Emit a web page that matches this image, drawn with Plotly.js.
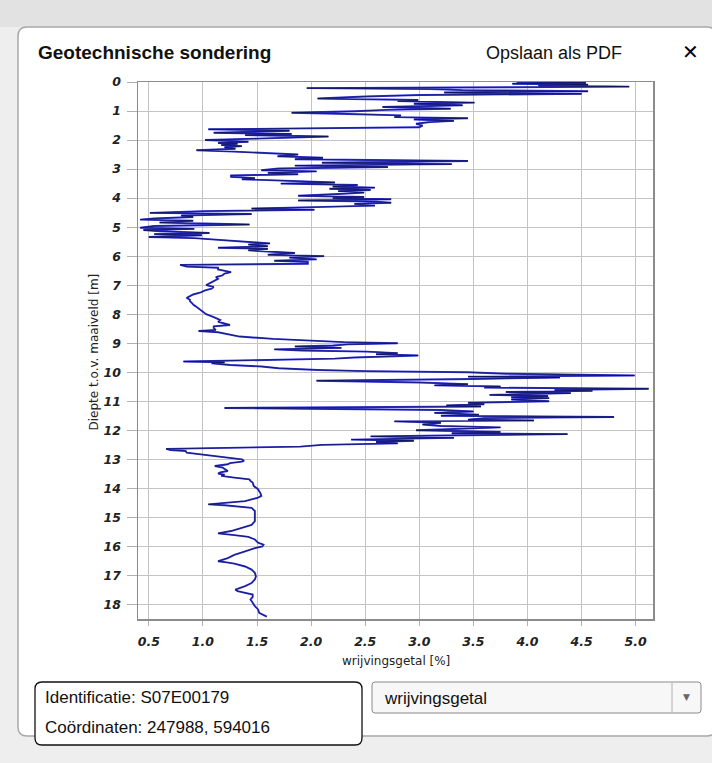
<!DOCTYPE html>
<html>
<head>
<meta charset="utf-8">
<script src="https://cdn.plot.ly/plotly-3.0.1.min.js"></script>
<style>html,body{margin:0;padding:0;background:#ececec;}#chart{width:712px;height:763px;}</style>
</head>
<body>
<div id="chart"></div>
<script>
// Depth below ground level [m]
const depth = [
0.00,0.03,0.06,0.09,0.12,0.16,0.19,0.21,0.24,0.28,0.32,0.36,0.41,0.45,0.50,0.57,0.62,0.66,0.71,0.75,
0.80,0.86,0.92,0.96,1.01,1.06,1.10,1.15,1.21,1.25,1.29,1.34,1.38,1.44,1.50,1.56,1.63,1.68,1.75,1.79,
1.83,1.88,1.95,2.00,2.06,2.10,2.13,2.17,2.21,2.25,2.30,2.35,2.40,2.45,2.50,2.56,2.61,2.66,2.72,2.78,
2.83,2.88,2.93,2.98,3.04,3.08,3.13,3.18,3.22,3.27,3.31,3.35,3.40,3.46,3.50,3.55,3.60,3.64,3.68,3.72,
3.76,3.81,3.86,3.92,3.96,4.00,4.04,4.08,4.12,4.16,4.20,4.26,4.31,4.36,4.40,4.45,4.51,4.55,4.60,4.65,
4.70,4.74,4.78,4.84,4.91,4.96,5.02,5.06,5.10,5.14,5.20,5.24,5.28,5.34,5.38,5.43,5.48,5.52,5.56,5.60,
5.66,5.71,5.75,5.80,5.85,5.89,5.95,6.00,6.05,6.11,6.16,6.20,6.26,6.30,6.36,6.40,6.46,6.50,6.55,6.60,
6.66,6.72,6.78,6.86,6.94,7.00,7.06,7.12,7.18,7.25,7.32,7.40,7.44,7.50,7.55,7.62,7.67,7.72,7.78,7.84,
7.90,8.00,8.10,8.20,8.26,8.32,8.37,8.42,8.48,8.54,8.58,8.62,8.66,8.72,8.77,8.85,8.92,8.96,9.00,9.04,
9.08,9.11,9.16,9.21,9.25,9.29,9.34,9.38,9.42,9.46,9.49,9.53,9.57,9.63,9.66,9.69,9.75,9.80,9.86,9.92,
9.96,10.00,10.05,10.11,10.15,10.18,10.23,10.29,10.35,10.41,10.45,10.49,10.53,10.57,10.61,10.64,10.68,10.72,10.78,10.82,
10.86,10.89,10.94,11.00,11.05,11.10,11.14,11.18,11.23,11.30,11.35,11.40,11.46,11.50,11.54,11.58,11.63,11.66,11.69,11.74,
11.80,11.85,11.90,11.95,12.00,12.03,12.06,12.10,12.13,12.17,12.21,12.26,12.32,12.36,12.40,12.45,12.50,12.56,12.60,12.64,
12.68,12.71,12.77,12.83,12.89,12.94,13.00,13.05,13.08,13.13,13.17,13.23,13.28,13.33,13.40,13.45,13.49,13.53,13.57,13.63,
13.69,13.75,13.80,13.92,14.03,14.10,14.15,14.26,14.32,14.38,14.44,14.49,14.55,14.58,14.61,14.67,14.78,14.90,15.01,15.13,
15.26,15.36,15.47,15.55,15.58,15.61,15.67,15.76,15.87,15.94,16.00,16.06,16.17,16.29,16.40,16.48,16.51,16.55,16.59,16.69,
16.80,16.91,17.03,17.14,17.26,17.37,17.46,17.49,17.54,17.60,17.66,17.74,17.83,17.94,18.06,18.17,18.29,18.42
];
// Friction ratio [%]
const wrijvingsgetal = [
3.90,4.54,3.86,4.56,4.10,4.94,3.30,1.96,3.10,3.40,4.56,3.23,4.50,3.00,2.50,2.06,2.99,2.80,3.51,2.95,
3.40,2.66,3.29,2.70,2.40,1.82,2.34,2.83,2.77,3.45,2.95,3.32,3.10,2.97,3.03,3.00,1.05,1.80,1.10,1.82,
1.39,2.16,1.50,1.02,1.42,1.14,1.32,1.17,1.36,1.20,1.30,0.94,1.29,1.63,1.88,1.69,2.11,1.85,3.45,2.10,
3.30,1.85,2.71,1.70,1.54,2.05,1.60,1.88,1.26,1.26,1.48,1.36,1.72,2.22,1.72,2.43,2.20,2.59,2.17,2.55,
2.25,2.49,2.25,1.88,2.49,2.20,2.74,1.88,2.60,2.74,2.40,2.59,2.03,1.45,2.03,1.00,0.51,1.45,0.80,0.91,
0.55,0.42,0.91,0.60,1.43,0.55,0.42,0.92,0.45,0.60,1.06,0.55,0.99,0.50,0.92,1.14,1.35,1.45,1.62,1.42,
1.60,1.14,1.60,1.42,1.66,1.85,1.60,2.12,1.80,2.05,1.66,1.97,1.97,0.79,0.85,1.14,1.14,1.20,1.26,1.20,
1.18,1.12,1.14,1.10,1.06,1.03,1.10,1.08,1.02,0.98,0.91,0.86,0.85,0.88,0.88,0.90,0.91,0.93,0.95,0.97,
0.99,1.03,1.10,1.16,1.14,1.20,1.25,1.10,1.10,1.12,0.96,1.14,1.20,1.26,1.34,1.65,2.05,2.30,2.80,2.34,
2.20,1.85,2.28,1.66,1.91,2.52,2.80,2.60,2.99,2.60,2.40,2.22,1.70,0.82,1.20,1.08,1.25,1.54,1.70,2.06,
2.50,3.45,3.80,4.99,3.45,4.30,3.50,2.05,3.00,3.45,3.14,3.75,3.60,5.12,4.25,4.60,3.80,4.40,3.65,4.19,
3.85,4.20,3.85,4.20,3.45,3.60,3.25,3.57,1.20,3.20,3.50,3.14,3.55,3.20,4.80,3.60,3.45,4.06,2.77,3.20,
3.03,3.20,3.75,3.30,2.97,3.45,3.75,3.30,4.37,3.40,2.55,3.32,2.37,2.95,2.60,2.80,2.10,1.90,1.30,0.66,
0.70,0.84,0.85,0.99,1.11,1.26,1.36,1.38,1.36,1.25,1.23,1.11,1.18,1.20,1.23,1.16,1.14,1.20,1.17,1.29,
1.43,1.44,1.46,1.47,1.51,1.52,1.53,1.54,1.51,1.45,1.39,1.23,1.05,1.20,1.29,1.45,1.48,1.48,1.48,1.48,
1.45,1.36,1.26,1.14,1.25,1.29,1.42,1.48,1.51,1.56,1.55,1.48,1.39,1.29,1.23,1.16,1.14,1.22,1.29,1.39,
1.45,1.48,1.49,1.48,1.45,1.39,1.32,1.30,1.32,1.39,1.46,1.46,1.44,1.46,1.48,1.51,1.52,1.59
];
const xTickVals = [0.5,1.0,1.5,2.0,2.5,3.0,3.5,4.0,4.5,5.0];
const yTickVals = [0,1,2,3,4,5,6,7,8,9,10,11,12,13,14,15,16,17,18];
const titleText = "Geotechnische sondering";
const pdfText = "Opslaan als PDF";
const xTitle = "wrijvingsgetal [%]";
const yTitle = "Diepte t.o.v. maaiveld [m]";
const idText = "Identificatie: S07E00179";
const coordText = "Coördinaten: 247988, 594016";
const selectText = "wrijvingsgetal";

// plot area in pixels
const L = 138, R = 653, T = 82, B = 619;
const px = p => (p - L) / (R - L);
const py = p => (B - p) / (B - T);
function rrect(x0, y0, x1, y1, r) {
  const X0 = px(x0), X1 = px(x1), Y0 = py(y0), Y1 = py(y1);
  const rx = r / (R - L), ry = r / (B - T);
  return `M${X0 + rx},${Y0} L${X1 - rx},${Y0} Q${X1},${Y0} ${X1},${Y0 - ry} L${X1},${Y1 + ry} Q${X1},${Y1} ${X1 - rx},${Y1} L${X0 + rx},${Y1} Q${X0},${Y1} ${X0},${Y1 + ry} L${X0},${Y0 - ry} Q${X0},${Y0} ${X0 + rx},${Y0} Z`;
}

const traces = [
  {x: wrijvingsgetal, y: depth, mode: 'lines', type: 'scatter',
   line: {color: '#2f35e0', width: 1.9}, hoverinfo: 'skip'},
  {x: wrijvingsgetal, y: depth, mode: 'lines', type: 'scatter',
   line: {color: '#0a0a30', width: 0.6}, hoverinfo: 'skip'}
];

const tickFont = {family: 'DejaVu Sans', size: 12.5, color: '#222', weight: 'bold', style: 'italic'};

const shapes = [
  {type: 'rect', xref: 'paper', yref: 'paper', x0: px(0), x1: px(712), y0: py(0), y1: py(27), fillcolor: '#e2e2e2', line: {width: 0}, layer: 'below'},
  {type: 'path', xref: 'paper', yref: 'paper', path: rrect(18, 27, 716, 736, 9), fillcolor: '#ffffff', line: {color: '#a8a8a8', width: 1.5}, layer: 'below'},
  {type: 'path', xref: 'paper', yref: 'paper', path: rrect(35, 682, 362, 745, 7), fillcolor: '#ffffff', line: {color: '#111', width: 1.3}},
  {type: 'path', xref: 'paper', yref: 'paper', path: rrect(372, 682, 701, 713, 3), fillcolor: '#f7f7f7', line: {color: '#8a8a8a', width: 1}},
  {type: 'line', xref: 'paper', yref: 'paper', x0: px(672), x1: px(672), y0: py(683), y1: py(712), line: {color: '#b0b0b0', width: 1}}
];

const ann = (text, x, y, size, opts) => Object.assign({
  text: text, xref: 'paper', yref: 'paper', x: px(x), y: py(y), showarrow: false,
  xanchor: 'left', yanchor: 'middle', font: {family: 'Liberation Sans', size: size, color: '#111'}
}, opts || {});

const annotations = [
  ann(titleText, 36, 53, 19, {font: {family: 'Liberation Sans', size: 19, color: '#111', weight: 'bold'}}),
  ann(pdfText, 484, 53, 18),
  ann('✕', 690, 52, 20, {xanchor: 'center', font: {family: 'DejaVu Sans', size: 20, color: '#000', weight: 'bold'}}),
  ann(xTitle, (L + R) / 2, 661, 12, {xanchor: 'center', font: {family: 'DejaVu Sans', size: 12, color: '#222'}}),
  ann(yTitle, 93, (T + B) / 2 + 2, 12, {xanchor: 'center', textangle: -90, font: {family: 'DejaVu Sans', size: 12, color: '#222'}}),
  ann(idText, 43, 697, 17),
  ann(coordText, 43, 727, 17),
  ann(selectText, 382, 698, 17),
  ann('▼', 686, 697, 9, {xanchor: 'center', font: {family: 'DejaVu Sans', size: 9, color: '#666'}})
];

const layout = {
  width: 712, height: 763,
  margin: {l: L, r: 712 - R, t: T, b: 763 - B, pad: 0},
  paper_bgcolor: '#eeeeee', plot_bgcolor: '#ffffff',
  showlegend: false,
  xaxis: {
    range: [0.40, 5.16], tickvals: xTickVals, tickformat: '.1f',
    showgrid: true, gridcolor: '#c4c4c4', gridwidth: 1, zeroline: false,
    showline: true, linecolor: '#8c8c8c', linewidth: 1.5, mirror: true,
    ticks: 'outside', ticklen: 5, tickcolor: '#b0b0b0', ticklabelstandoff: 5,
    tickfont: tickFont, fixedrange: true
  },
  yaxis: {
    range: [18.5, 0], tickvals: yTickVals,
    showgrid: true, gridcolor: '#c4c4c4', gridwidth: 1, zeroline: false,
    showline: true, linecolor: '#8c8c8c', linewidth: 1.5, mirror: true,
    ticks: 'outside', ticklen: 10, tickcolor: '#b0b0b0', ticklabelstandoff: 3,
    tickfont: tickFont, fixedrange: true
  },
  shapes: shapes,
  annotations: annotations
};

Plotly.newPlot('chart', traces, layout, {displayModeBar: false, staticPlot: true});
</script>
</body>
</html>
